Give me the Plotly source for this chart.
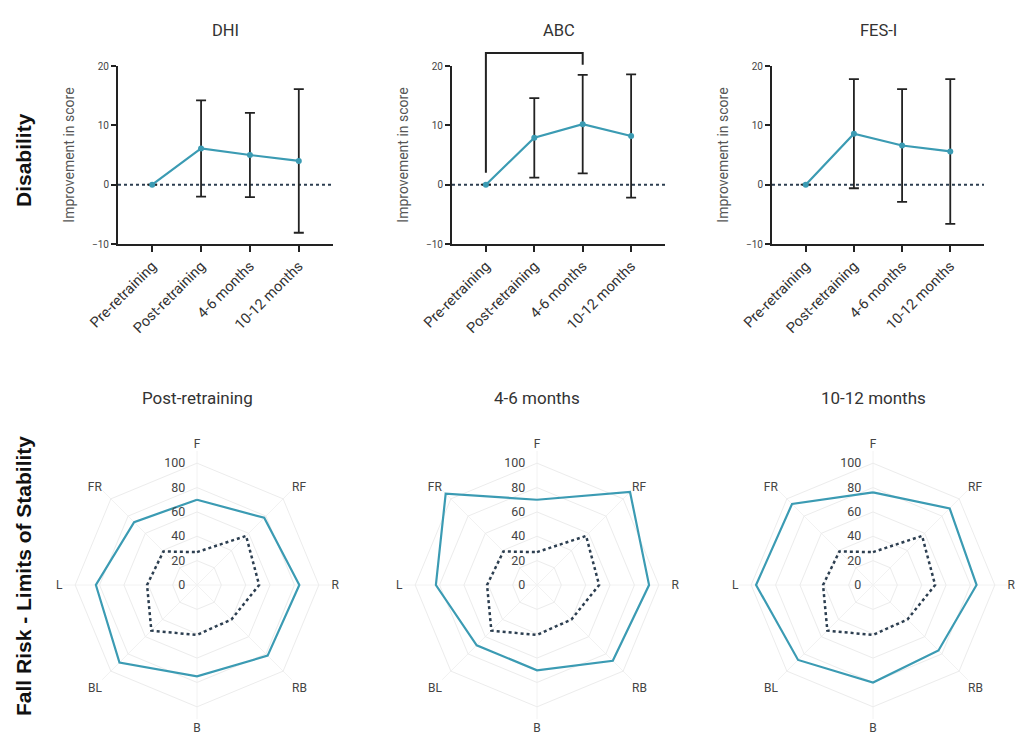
import plotly.graph_objects as go

# ---------------- data ----------------
timepoints = ["Pre-retraining", "Post-retraining", "4-6 months", "10-12 months"]

dhi_mean = [0, 6.1, 5.0, 4.0]
dhi_err = [None, 8.1, 7.1, 12.1]

abc_mean = [0, 7.9, 10.2, 8.2]
abc_err = [None, 6.7, 8.3, 10.4]

fes_mean = [0, 8.6, 6.6, 5.6]
fes_err = [None, 9.2, 9.5, 12.2]

# significance bracket on ABC: from Pre-retraining to 4-6 months
abc_bracket_x = [0, 0, 2, 2]
abc_bracket_y = [2.0, 22.2, 22.2, 20.2]

directions = ["F", "RF", "R", "RB", "B", "BL", "L", "FR"]
los_post = [70, 78, 84, 82, 75, 90, 83, 73]
los_4_6 = [70, 108, 92, 88, 70, 70, 83, 106]
los_10_12 = [76, 89, 85, 76, 80, 87, 96, 94]
los_ref = [27, 57, 51, 40, 41, 53, 41, 39]
radial_ticks = [0, 20, 40, 60, 80, 100]

radar_titles = ["Post-retraining", "4-6 months", "10-12 months"]
line_titles = ["DHI", "ABC", "FES-I"]

# ---------------- style ----------------
TEAL = "#3b9bb3"
NAVY = "#2c3e50"
FONT = "Roboto"

W, H = 1024, 740
YRANGE = [-10, 20]
top_y_dom = [1 - 244 / H, 1 - 66 / H]
top_x_doms = [[118 / W, 333 / W], [452 / W, 665 / W], [772 / W, 984 / W]]
radar_centers = [197, 537, 873]
radar_cy = 585
radar_r = 134

fig = go.Figure()

series = [(dhi_mean, dhi_err), (abc_mean, abc_err), (fes_mean, fes_err)]
for i, (m, e) in enumerate(series):
    ax = "" if i == 0 else str(i + 1)
    fig.add_trace(go.Scatter(
        x=timepoints, y=m, mode="lines+markers",
        line=dict(color=TEAL, width=2.2),
        marker=dict(color=TEAL, size=6),
        error_y=dict(type="data", array=e, visible=True, color="#222222",
                     thickness=1.8, width=5),
        xaxis="x" + ax, yaxis="y" + ax, showlegend=False,
    ))
    xa = dict(domain=top_x_doms[i], anchor="y" + ax, range=[-0.7, 3.7],
              automargin=False,
              showline=True, linecolor="#222222", linewidth=2,
              ticks="outside", ticklen=6, tickwidth=2, tickcolor="#222222",
              tickangle=-45, tickfont=dict(size=14.5, color="#333333"),
              showgrid=False, zeroline=False,
              categoryorder="array", categoryarray=timepoints)
    ya = dict(domain=top_y_dom, anchor="x" + ax, range=YRANGE,
              automargin=False,
              tickvals=[-10, 0, 10, 20],
              showline=True, linecolor="#222222", linewidth=2,
              ticks="outside", ticklen=5, tickwidth=2, tickcolor="#222222",
              tickfont=dict(size=10, color="#444444"),
              showgrid=False, zeroline=False,
              title=dict(text="Improvement in score",
                         font=dict(size=14, color="#555555"), standoff=14))
    fig.layout["xaxis" + ax] = xa
    fig.layout["yaxis" + ax] = ya
    # dashed zero reference line
    fig.add_shape(type="line", xref="x" + ax + " domain", yref="y" + ax,
                  x0=0, x1=1, y0=0, y1=0,
                  line=dict(color=NAVY, width=2, dash="dot"), layer="below")
    # subplot title
    fig.add_annotation(text=line_titles[i], xref="paper", yref="paper",
                       x=sum(top_x_doms[i]) / 2, y=1 - 30 / H,
                       xanchor="center", yanchor="middle",
                       showarrow=False, font=dict(size=16.5, color="#333333"))

# ABC bracket (above the plotting range -> y in paper units from data)
def y_to_paper(v):
    return top_y_dom[0] + (v - YRANGE[0]) / (YRANGE[1] - YRANGE[0]) * (top_y_dom[1] - top_y_dom[0])

path = ""
for k, (bx, by) in enumerate(zip(abc_bracket_x, abc_bracket_y)):
    path += ("M" if k == 0 else " L") + f" {bx} {y_to_paper(by)}"
fig.add_shape(type="path", xref="x2", yref="paper", path=path,
              line=dict(color="#222222", width=2))

# ---------------- radars ----------------
radar_series = [los_post, los_4_6, los_10_12]
pad = "\u00a0" * 3
for i, vals in enumerate(radar_series):
    pid = "polar" if i == 0 else "polar" + str(i + 1)
    theta = directions + directions[:1]
    fig.add_trace(go.Scatterpolar(
        r=los_ref + los_ref[:1], theta=theta, mode="lines",
        line=dict(color=NAVY, width=2.5, dash="dot"),
        subplot=pid, showlegend=False))
    fig.add_trace(go.Scatterpolar(
        r=vals + vals[:1], theta=theta, mode="lines",
        line=dict(color=TEAL, width=2.2),
        subplot=pid, showlegend=False))
    cx = radar_centers[i]
    fig.layout[pid] = dict(
        domain=dict(x=[(cx - radar_r) / W, (cx + radar_r) / W],
                    y=[1 - (radar_cy + radar_r) / H, 1 - (radar_cy - radar_r) / H]),
        gridshape="linear", bgcolor="white",
        radialaxis=dict(range=[0, 110], tickvals=radial_ticks,
                        ticktext=[f"{t}{pad}" for t in radial_ticks],
                        angle=90, side="counterclockwise", showline=False,
                        tickangle=90,
                        ticks="", gridcolor="#ececec", gridwidth=1,
                        tickfont=dict(size=12.5, color="#444444")),
        angularaxis=dict(direction="clockwise", rotation=90,
                         categoryorder="array", categoryarray=directions,
                         showline=False, gridcolor="#f2f2f2", ticks="",
                         tickfont=dict(size=12, color="#444444")),
    )
    fig.add_annotation(text=radar_titles[i], xref="paper", yref="paper",
                       x=cx / W, y=1 - 398 / H, xanchor="center", yanchor="middle",
                       showarrow=False, font=dict(size=17, color="#333333"))

# row labels
fig.add_annotation(text="<b>Disability</b>", xref="paper", yref="paper",
                   x=23 / W, y=1 - 160 / H, textangle=-90, showarrow=False,
                   xanchor="center", yanchor="middle",
                   font=dict(size=21, color="#111111", family="Liberation Sans"))
fig.add_annotation(text="<b>Fall Risk - Limits of Stability</b>", xref="paper", yref="paper",
                   x=23 / W, y=1 - 576 / H, textangle=-90, showarrow=False,
                   xanchor="center", yanchor="middle",
                   font=dict(size=21, color="#111111", family="Liberation Sans"))

fig.update_layout(width=W, height=H, margin=dict(l=0, r=0, t=0, b=0, autoexpand=False),
                  paper_bgcolor="white", plot_bgcolor="white",
                  font=dict(family=FONT, color="#333333"), showlegend=False)

fig.write_html("out.html", config={"displayModeBar": False},
               post_script="document.body.style.margin='0px';")
